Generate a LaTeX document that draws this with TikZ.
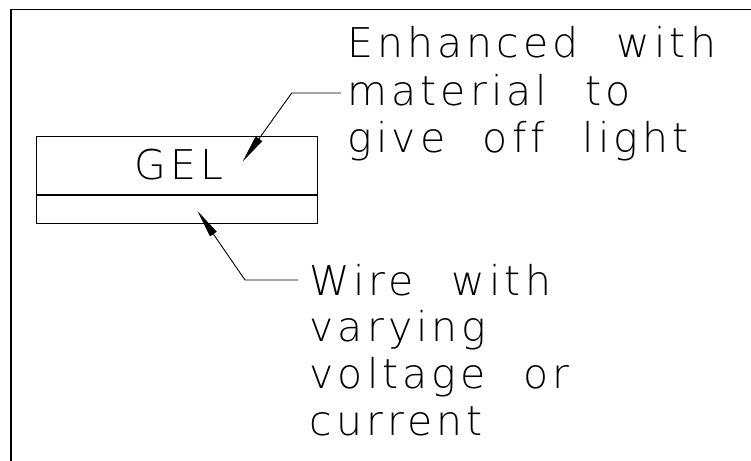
\documentclass[tikz,border=0pt]{standalone}
\usepackage{fontspec}
\newfontfamily\cadfont{DejaVu Sans ExtraLight}[LetterSpace=10,WordSpace=2.2,Ligatures=NoCommon]
\usetikzlibrary{arrows.meta}
\begin{document}
\begin{tikzpicture}[x=1pt,y=-1pt,line width=1pt,
  lbl/.style={inner sep=0pt,anchor=base west,font=\cadfont\fontsize{41}{47}\selectfont},
  leader/.style={line width=0.9pt,-{Triangle[length=28pt,width=8pt]}}]
\useasboundingbox (0,0) rectangle (751,460);
\draw[line width=1.5pt] (11,461) -- (11,9.5) -- (752,9.5);
% box
\node[draw,line width=1pt,minimum width=281pt,minimum height=87pt,inner sep=0pt,anchor=north west] (box) at (36,136) {};
\draw[line width=2pt] ([yshift=-59pt]box.north west) -- ([yshift=-59pt]box.north east);
\node[lbl] (gel) at (134,179) {GEL};
% top label
\node[lbl] (a1) at (347,57.5) {Enhanced with};
\node[lbl] (a2) at (347,105) {material to};
\node[lbl] (a3) at (347,152.5) {give off light};
% bottom label
\node[lbl] (b1) at (309,295) {Wire with};
\node[lbl] (b2) at (309,341.5) {varying};
\node[lbl] (b3) at (309,388) {voltage or};
\node[lbl] (b4) at (309,435) {current};
% arrow tips
\coordinate (t1) at (242.7,161.5);
\coordinate (t2) at (197.5,211);
\draw[leader] ([shift={(-6,-12)}]a2.base west) -- (291.7,93) -- (t1);
\draw[leader] ([shift={(-11,-15)}]b1.base west) -- (245,280) -- (t2);
\end{tikzpicture}
\end{document}
